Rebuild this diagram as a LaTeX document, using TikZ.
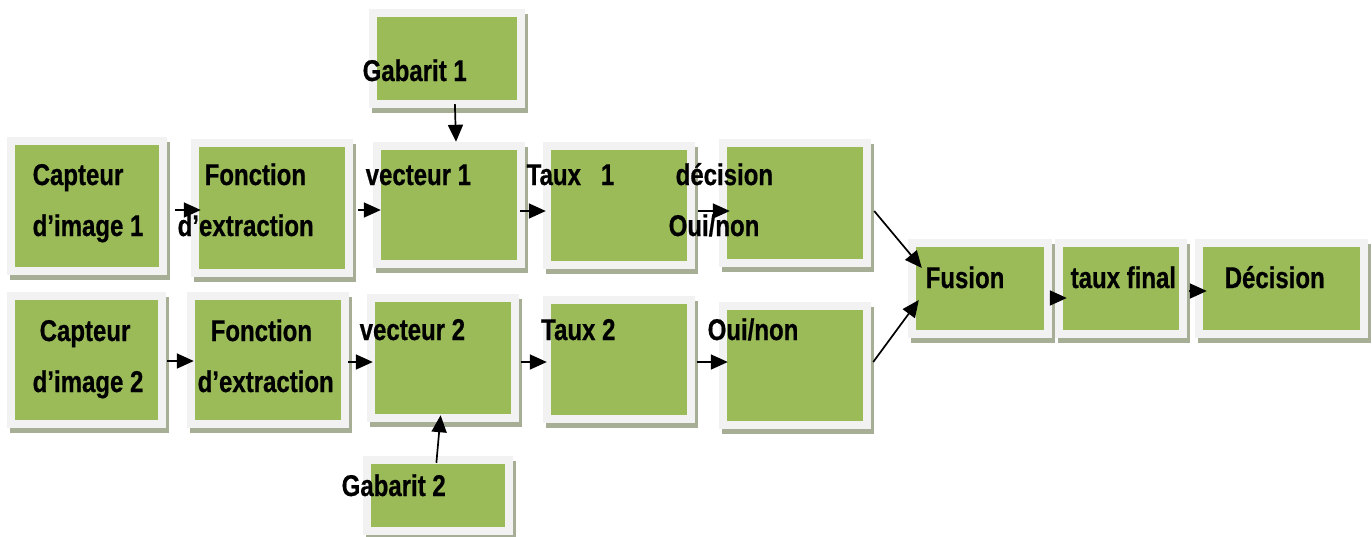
\documentclass[tikz,border=0pt]{standalone}
\usepackage{fontspec}
\setmainfont{Liberation Sans}[FakeStretch=0.8, BoldFeatures={FakeBold=0.6}]
\usetikzlibrary{arrows.meta,shadows}

\definecolor{framec}{HTML}{F2F2F2}
\definecolor{greenc}{HTML}{9BBB59}
\definecolor{shadowc}{HTML}{A7AE96}

\tikzset{
  box/.style={rectangle, inner sep=0pt, fill=framec,
    general shadow={fill=shadowc, shadow xshift=3pt, shadow yshift=-4.5pt},
    path picture={\fill[greenc]
      ([shift={(8pt,8pt)}]path picture bounding box.south west) rectangle
      ([shift={(-8pt,-8pt)}]path picture bounding box.north east);}},
  txt/.style={anchor=base west, inner sep=0pt,
    font=\fontsize{30}{36}\selectfont\bfseries},
  arr/.style={line width=1.7pt, -{Triangle[length=17pt,width=15pt]}}
}

\begin{document}
\begin{tikzpicture}[x=1pt,y=-1pt]
\fill[white] (0,0) rectangle (1372,536);
\useasboundingbox (0,0) rectangle (1372,536);

% blocks: upper chain
\node[box, minimum width=160pt, minimum height=138pt] (cap1) at (87,206) {};
\node[box, minimum width=162pt, minimum height=138pt] (fon1) at (272,208) {};
\node[box, minimum width=156pt, minimum height=99pt]  (gab1) at (447,58.5) {};
\node[box, minimum width=152pt, minimum height=126pt] (vec1) at (449,205) {};
\node[box, minimum width=152pt, minimum height=127pt] (tau1) at (619,205.5) {};
\node[box, minimum width=152pt, minimum height=128pt] (dec1) at (795,203) {};

% blocks: lower chain
\node[box, minimum width=159pt, minimum height=136pt] (cap2) at (86.5,360) {};
\node[box, minimum width=162pt, minimum height=136pt] (fon2) at (268,360) {};
\node[box, minimum width=152pt, minimum height=128pt] (vec2) at (443,358) {};
\node[box, minimum width=150pt, minimum height=79pt]  (gab2) at (438,495.5) {};
\node[box, minimum width=152pt, minimum height=127pt] (tau2) at (619,359.5) {};
\node[box, minimum width=152pt, minimum height=127pt] (oui2) at (795,365.5) {};

% blocks: fusion stage
\node[box, minimum width=144pt, minimum height=99pt] (fus) at (980,288.5) {};
\node[box, minimum width=132pt, minimum height=99pt] (tfi) at (1121,288.5) {};
\node[box, minimum width=173pt, minimum height=99pt] (dcs) at (1281.5,288.5) {};

% connectors, upper chain
\draw[arr, shorten <=8pt,  shorten >=-10pt] (cap1.east |- 0,210) -- (fon1.west |- 0,210);
\draw[arr, shorten <=5pt,  shorten >=-8pt]  (fon1.east |- 0,210) -- (vec1.west |- 0,210);
\draw[arr, shorten <=-5pt, shorten >=-3pt]  (vec1.east |- 0,211) -- (tau1.west |- 0,211);
\draw[arr, shorten <=3pt,  shorten >=-11pt] (tau1.east |- 0,211) -- (dec1.west |- 0,211);
\draw[arr, shorten <=-4pt, shorten >=0pt]   (gab1.south -| 455,0) -- (vec1.north -| 456,0);

% connectors, lower chain
\draw[arr, shorten <=1pt,  shorten >=-7pt]  (cap2.east |- 0,361) -- (fon2.west |- 0,361);
\draw[arr, shorten <=-1pt, shorten >=-6pt]  (fon2.east |- 0,362) -- (vec2.west |- 0,362);
\draw[arr, shorten <=2pt,  shorten >=-4pt]  (vec2.east |- 0,362) -- (tau2.west |- 0,362);
\draw[arr, shorten <=2pt,  shorten >=-9pt]  (tau2.east |- 0,362) -- (oui2.west |- 0,362);
\draw[arr, shorten <=-7pt, shorten >=-7pt]  (gab2.north -| 437,0) -- (vec2.south -| 440,0);

% connectors into and after the fusion
\draw[arr] ([shift={(3pt,-8pt)}]dec1.east) -- ([shift={(14pt,20.5pt)}]fus.west);
\draw[arr] ([shift={(2pt,3.5pt)}]oui2.east) -- ([shift={(11pt,-11.5pt)}]fus.west);
\draw[arr, shorten >=-12pt] ([yshift=-9.5pt]fus.east) -- ([yshift=-9.5pt]tfi.west);
\draw[arr, shorten <=2pt, shorten >=-12pt] ([yshift=-2.5pt]tfi.east) -- ([yshift=-2.5pt]dcs.west);

% labels
\node[txt] (t1) at (32.5,185) {Capteur};
\node[txt] (t2) at (32.5,236) {d’image 1};
\node[txt] (t3) at (204.5,185) {Fonction};
\node[txt] (t4) at (177.5,236) {d’extraction};
\node[txt] (t5) at (362.5,81) {Gabarit 1};
\node[txt] (t6) at (365.5,185) {vecteur 1};
\node[txt] (t7) at (526.5,185) {Taux\ \ \ 1};
\node[txt] (t8) at (675.5,185) {décision};
\node[txt] (t9) at (668.5,236) {Oui/non};

\node[txt] (u1) at (39.5,341) {Capteur};
\node[txt] (u2) at (32.5,392) {d’image 2};
\node[txt] (u3) at (210.5,341) {Fonction};
\node[txt] (u4) at (197.5,392) {d’extraction};
\node[txt] (u5) at (359.5,340) {vecteur 2};
\node[txt] (u6) at (541,340) {Taux 2};
\node[txt] (u7) at (707.5,340) {Oui/non};
\node[txt] (u8) at (341.5,496) {Gabarit 2};

\node[txt] (v1) at (925.5,288) {Fusion};
\node[txt] (v2) at (1070.5,288) {taux final};
\node[txt] (v3) at (1224.5,288) {Décision};
\end{tikzpicture}
\end{document}
